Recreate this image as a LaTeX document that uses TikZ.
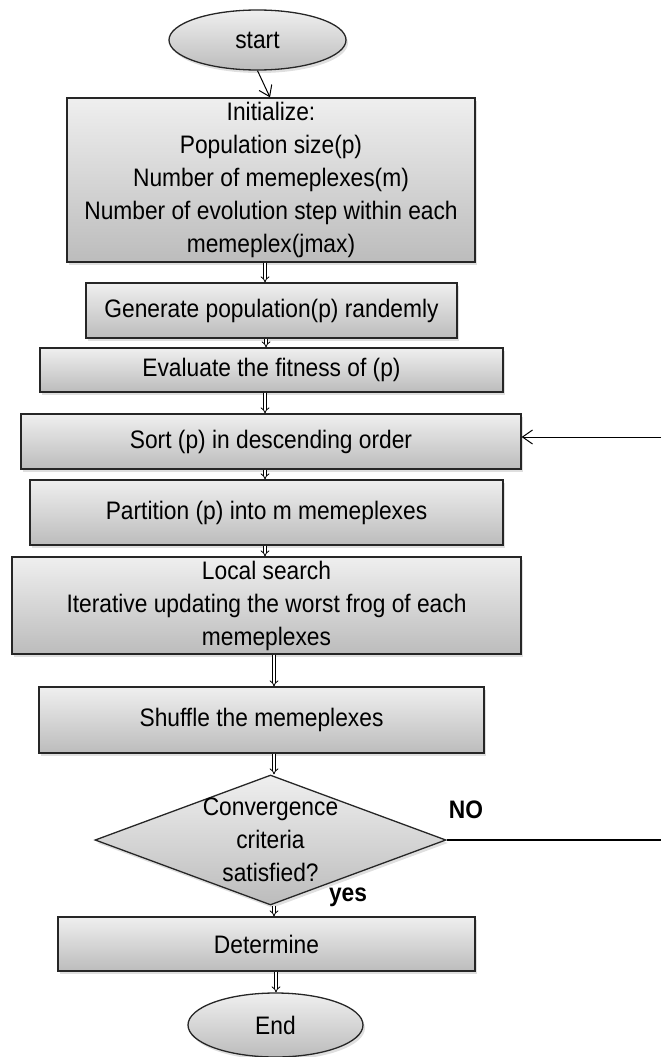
\documentclass[tikz,border=0pt]{standalone}
\usepackage{fontspec}
\setmainfont{Liberation Sans}[FakeStretch=0.9]
\usetikzlibrary{shapes.geometric,arrows.meta,shadows}
\definecolor{topg}{HTML}{EFEFEF}
\definecolor{botg}{HTML}{BCBCBC}
\begin{document}
\begin{tikzpicture}[x=1pt,y=-1pt,
  shade/.style={draw=black!85, line width=1.3pt, top color=topg, bottom color=botg,
    drop shadow={opacity=0.25, shadow xshift=2pt, shadow yshift=-3pt}},
  txt/.style={font=\fontsize{25.3}{33}\selectfont, align=center},
  box/.style={shade, txt, rectangle, inner sep=0pt},
  term/.style={shade, txt, ellipse, inner sep=0pt},
  dec/.style={shade, diamond, inner sep=0pt, aspect=2.7},
  dbl/.style={double=white, double distance=2.2pt, line width=0.8pt, -{Implies}},
  sgl/.style={line width=1pt, -{Straight Barb[length=10pt,width=14pt]}},
  lbl/.style={font=\fontsize{25.3}{30}\selectfont\bfseries},
  plain/.style={line width=1.2pt}
]
\useasboundingbox (0,0) rectangle (661,1057);

\node[term, minimum width=177pt, minimum height=60pt] (start) at (257.5,40) {start};
\node[box, minimum width=408pt, minimum height=164pt] (init) at (271,180)
  {Initialize:\\Population size(p)\\Number of memeplexes(m)\\Number of evolution step within each\\memeplex(jmax)};
\node[box, minimum width=371pt, minimum height=55pt] (gen) at (271.5,310.5) {Generate population(p) randemly};
\node[box, minimum width=463pt, minimum height=44pt] (eval) at (271.5,370) {Evaluate the fitness of (p)};
\node[box, minimum width=500pt, minimum height=55pt] (sort) at (271,441.5) {Sort (p) in descending order};
\node[box, minimum width=473pt, minimum height=65pt] (part) at (266.5,512.5) {Partition (p) into m memeplexes};
\node[box, minimum width=509pt, minimum height=97pt] (local) at (266.5,605.5)
  {Local search\\Iterative updating the worst frog of each\\memeplexes};
\node[box, minimum width=445pt, minimum height=66pt] (shuf) at (261.5,720) {Shuffle the memeplexes};
\node[dec, minimum width=351pt, minimum height=130pt] (conv) at (270.5,840) {};
\node[txt] (convt) at (conv.center) {Convergence\\criteria\\satisfied?};
\node[box, minimum width=417pt, minimum height=54pt] (det) at (266.5,944) {Determine};
\node[term, minimum width=175pt, minimum height=64pt] (end) at (275.5,1025) {End};

\node[lbl] (no) at (466,810) {NO};
\node[lbl] (yes) at (348,897) {yes};

\coordinate (rtop) at (661,437);
\coordinate (rbot) at (661,840);

\draw[sgl] (start.south) -- ([xshift=-1pt]init.north);
\draw[dbl] ([xshift=-6pt]init.south) -- ([xshift=-6.5pt]gen.north);
\draw[dbl] ([xshift=-5.5pt]gen.south) -- ([xshift=-5.5pt]eval.north);
\draw[dbl] ([xshift=-6.5pt]eval.south) -- ([xshift=-6pt]sort.north);
\draw[dbl] ([xshift=-6pt]sort.south) -- ([xshift=-1.5pt]part.north);
\draw[dbl] ([xshift=-1.5pt]part.south) -- ([xshift=-1.5pt]local.north);
\draw[dbl] ([xshift=7.5pt]local.south) -- ([xshift=12.5pt]shuf.north);
\draw[dbl] ([xshift=12.5pt]shuf.south) -- ([xshift=3.5pt]conv.north);
\draw[dbl] ([xshift=3.5pt]conv.south) -- ([xshift=7.5pt]det.north);
\draw[dbl] ([xshift=9.5pt]det.south) -- ([xshift=0.5pt]end.north);
\draw[plain] (conv.east) -- (rbot);
\draw[sgl] (rtop) -- (rtop -| sort.east);
\end{tikzpicture}
\end{document}
